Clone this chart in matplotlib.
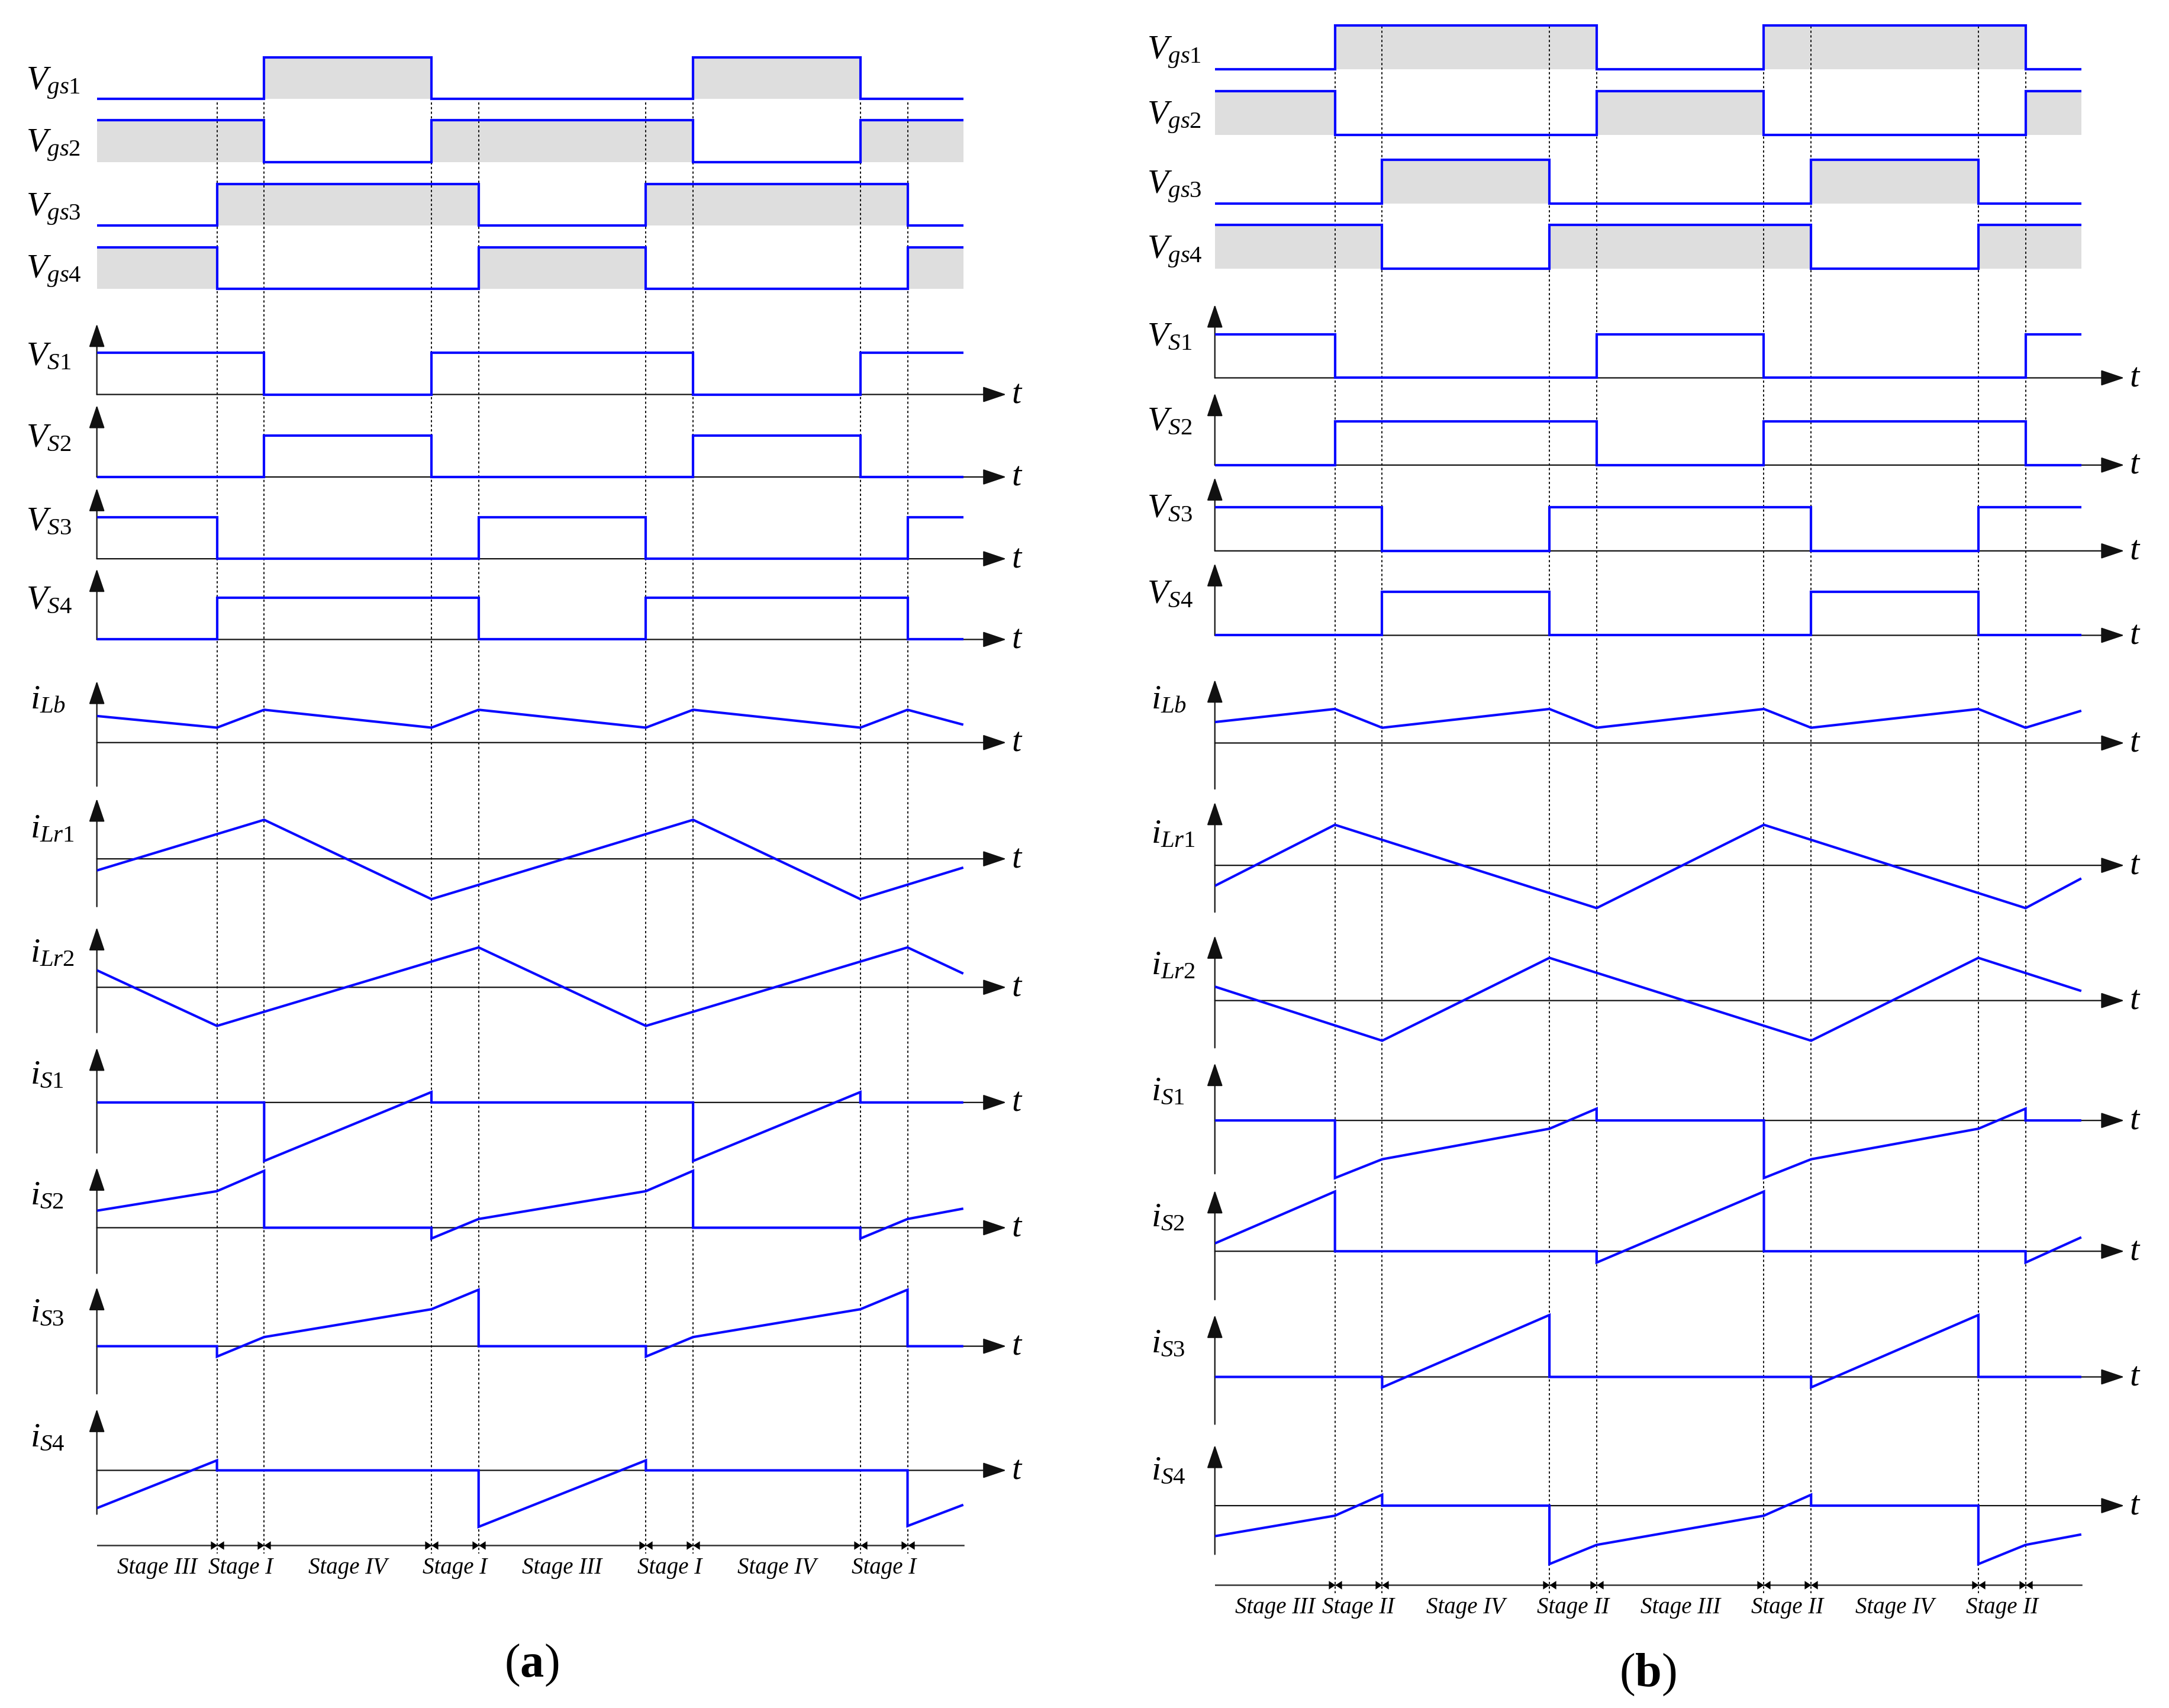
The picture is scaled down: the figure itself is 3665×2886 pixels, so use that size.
import matplotlib.pyplot as plt
from matplotlib.path import Path

plt.rcParams['font.family'] = 'Liberation Serif'
plt.rcParams['mathtext.fontset'] = 'custom'
plt.rcParams['mathtext.rm'] = 'Liberation Serif'
plt.rcParams['mathtext.it'] = 'Liberation Serif:italic'
plt.rcParams['mathtext.bf'] = 'Liberation Serif:bold'

# layout grid = px of the 1568x1234 preview of the reference
W_REF, H_REF = 1568, 1234
PX_PER_TS = 310      # horizontal px per switching period Ts
T_SPAN = 2.4         # time span (Ts) of every axes
T_TIP = 2.12         # end of the time-axis arrows

BLUE = '#0a0aff'
GRAY = '#dedede'

# ---------------- data ----------------
# switching instants and trace end, in Ts
t_sw = [0.28, 0.39, 0.78, 0.89, 1.28, 1.39, 1.78, 1.89]
t_end = 2.02
t_edges = [0] + t_sw + [t_end]

# logic levels per interval (last value repeated for the step end)
vgs1_a = [0, 0, 1, 0, 0, 0, 1, 0, 0, 0]
vgs2_a = [1, 1, 0, 1, 1, 1, 0, 1, 1, 1]
vgs3_a = [0, 1, 1, 1, 0, 1, 1, 1, 0, 0]
vgs4_a = [1, 0, 0, 0, 1, 0, 0, 0, 1, 1]
vs1_a = [1, 1, 0, 1, 1, 1, 0, 1, 1, 1]
vs2_a = [0, 0, 1, 0, 0, 0, 1, 0, 0, 0]
vs3_a = [1, 0, 0, 0, 1, 0, 0, 0, 1, 1]
vs4_a = [0, 1, 1, 1, 0, 1, 1, 1, 0, 0]

vgs1_b = [0, 1, 1, 1, 0, 1, 1, 1, 0, 0]
vgs2_b = [1, 0, 0, 0, 1, 0, 0, 0, 1, 1]
vgs3_b = [0, 0, 1, 0, 0, 0, 1, 0, 0, 0]
vgs4_b = [1, 1, 0, 1, 1, 1, 0, 1, 1, 1]
vs1_b = [1, 0, 0, 0, 1, 0, 0, 0, 1, 1]
vs2_b = [0, 1, 1, 1, 0, 1, 1, 1, 0, 0]
vs3_b = [1, 1, 0, 1, 1, 1, 0, 1, 1, 1]
vs4_b = [0, 0, 1, 0, 0, 0, 1, 0, 0, 0]

# currents (arbitrary units), vertices (t, value); repeated t = jump
ilb_a_t = t_edges
ilb_a = [0.64, 0.36, 0.79, 0.36, 0.79, 0.36, 0.79, 0.36, 0.79, 0.43]
ilr1_a_t = [0, 0.39, 0.78, 1.39, 1.78, 2.02]
ilr1_a = [-0.28, 0.94, -0.97, 0.94, -0.97, -0.21]
ilr2_a_t = [0, 0.28, 0.89, 1.28, 1.89, 2.02]
ilr2_a = [0.41, -0.93, 0.96, -0.93, 0.96, 0.33]
is1_a_t = [0, 0.39, 0.39, 0.78, 0.78, 1.39, 1.39, 1.78, 1.78, 2.02]
is1_a = [0, 0, -1.41, 0.25, 0, 0, -1.41, 0.25, 0, 0]
is2_a_t = [0, 0.28, 0.39, 0.39, 0.78, 0.78, 0.89, 1.28, 1.39, 1.39, 1.78, 1.78, 1.89, 2.02]
is2_a = [0.41, 0.88, 1.37, 0, 0, -0.26, 0.21, 0.88, 1.37, 0, 0, -0.26, 0.21, 0.46]
is3_a_t = [0, 0.28, 0.28, 0.39, 0.78, 0.89, 0.89, 1.28, 1.28, 1.39, 1.78, 1.89, 1.89, 2.02]
is3_a = [0, 0, -0.25, 0.22, 0.89, 1.36, 0, 0, -0.25, 0.22, 0.89, 1.36, 0, 0]
is4_a_t = [0, 0.28, 0.28, 0.89, 0.89, 1.28, 1.28, 1.89, 1.89, 2.02]
is4_a = [-0.91, 0.24, 0, 0, -1.36, 0.24, 0, 0, -1.34, -0.83]

ilb_b_t = t_edges
ilb_b = [0.48, 0.78, 0.35, 0.78, 0.35, 0.78, 0.35, 0.78, 0.35, 0.74]
ilr1_b_t = [0, 0.28, 0.89, 1.28, 1.89, 2.02]
ilr1_b = [-0.47, 0.93, -0.98, 0.93, -0.98, -0.30]
ilr2_b_t = [0, 0.39, 0.78, 1.39, 1.78, 2.02]
ilr2_b = [0.32, -0.92, 0.98, -0.92, 0.98, 0.22]
is1_b_t = [0, 0.28, 0.28, 0.39, 0.78, 0.89, 0.89, 1.28, 1.28, 1.39, 1.78, 1.89, 1.89, 2.02]
is1_b = [0, 0, -1.32, -0.89, -0.19, 0.27, 0, 0, -1.32, -0.89, -0.19, 0.27, 0, 0]
is2_b_t = [0, 0.28, 0.28, 0.89, 0.89, 1.28, 1.28, 1.89, 1.89, 2.02]
is2_b = [0.18, 1.37, 0, 0, -0.26, 1.37, 0, 0, -0.26, 0.32]
is3_b_t = [0, 0.39, 0.39, 0.78, 0.78, 1.39, 1.39, 1.78, 1.78, 2.02]
is3_b = [0, 0, -0.24, 1.42, 0, 0, -0.24, 1.42, 0, 0]
is4_b_t = [0, 0.28, 0.39, 0.39, 0.78, 0.78, 0.89, 1.28, 1.39, 1.39, 1.78, 1.78, 1.89, 2.02]
is4_b = [-0.70, -0.23, 0.25, 0, 0, -1.34, -0.90, -0.23, 0.25, 0, 0, -1.34, -0.90, -0.66]

gate_labels = [r'$V_{\mathit{gs1}}$', r'$V_{\mathit{gs2}}$', r'$V_{\mathit{gs3}}$', r'$V_{\mathit{gs4}}$']
vs_labels = [r'$V_{\mathit{S1}}$', r'$V_{\mathit{S2}}$', r'$V_{\mathit{S3}}$', r'$V_{\mathit{S4}}$']
cur_labels = [r'$i_{\mathit{Lb}}$', r'$i_{\mathit{Lr1}}$', r'$i_{\mathit{Lr2}}$',
              r'$i_{\mathit{S1}}$', r'$i_{\mathit{S2}}$', r'$i_{\mathit{S3}}$', r'$i_{\mathit{S4}}$']
stages_a = ['Stage III', 'Stage I', 'Stage IV', 'Stage I', 'Stage III', 'Stage I', 'Stage IV', 'Stage I']
stages_b = ['Stage III', 'Stage II', 'Stage IV', 'Stage II', 'Stage III', 'Stage II', 'Stage IV', 'Stage II']

panels = [
    dict(tag=r'($\mathbf{a}$)', tag_xy=(384, 1203), x0=70, unit=30, label_x=19,
         dash_top=74, stage_y=1116.6, stage_text_y=1137, stages=stages_a,
         gates=[vgs1_a, vgs2_a, vgs3_a, vgs4_a], gate_base=[71.5, 117, 163, 208.6],
         gate_lab=[65, 110, 156, 201],
         vs=[vs1_a, vs2_a, vs3_a, vs4_a], vs_base=[285, 344.6, 403.7, 462],
         vs_top=[234, 292.7, 352.7, 411], vs_lab=[264, 323, 383, 440],
         cur=[(ilb_a_t, ilb_a), (ilr1_a_t, ilr1_a), (ilr2_a_t, ilr2_a), (is1_a_t, is1_a),
              (is2_a_t, is2_a), (is3_a_t, is3_a), (is4_a_t, is4_a)],
         cur_base=[536.5, 620.5, 713.3, 796.5, 887, 972.6, 1062.3],
         cur_top=[492, 577, 670, 757, 843.6, 930, 1018],
         cur_bot=[568, 655, 746, 833, 920, 1007, 1094],
         cur_lab=[512, 605, 695, 783, 870, 955, 1045]),
    dict(tag=r'($\mathbf{b}$)', tag_xy=(1191, 1210), x0=878, unit=31.5, label_x=829,
         dash_top=19, stage_y=1145, stage_text_y=1165.5, stages=stages_b,
         gates=[vgs1_b, vgs2_b, vgs3_b, vgs4_b], gate_base=[50, 97.5, 147, 194],
         gate_lab=[43, 90, 140, 187],
         vs=[vs1_b, vs2_b, vs3_b, vs4_b], vs_base=[273, 336, 398, 459],
         vs_top=[220, 284, 345, 407], vs_lab=[250, 311, 374, 436],
         cur=[(ilb_b_t, ilb_b), (ilr1_b_t, ilr1_b), (ilr2_b_t, ilr2_b), (is1_b_t, is1_b),
              (is2_b_t, is2_b), (is3_b_t, is3_b), (is4_b_t, is4_b)],
         cur_base=[536.8, 625.2, 722.9, 809.5, 904, 994.8, 1087.8],
         cur_top=[491, 579.5, 676, 768, 860, 950, 1044],
         cur_bot=[570, 659, 757, 848, 939, 1029, 1123],
         cur_lab=[512, 609, 704, 795, 886, 977, 1069]),
]

fig = plt.figure(figsize=(36.66, 28.86), dpi=100)


def fy(y):
    return 1 - y / H_REF


def row_axes(x0, base, unit, half=62):
    # axes whose y=0 sits on the reference row baseline, 1 unit = `unit` px
    ax = fig.add_axes([x0 / W_REF, fy(base + half), T_SPAN * PX_PER_TS / W_REF, 2 * half / H_REF])
    ax.set_xlim(0, T_SPAN)
    ax.set_ylim(-half / unit, half / unit)
    ax.axis('off')
    return ax


def arrow(ax, start, tip):
    ax.annotate('', xy=tip, xytext=start,
                arrowprops=dict(arrowstyle='-|>,head_length=0.8,head_width=0.27',
                                mutation_scale=31, lw=1.6, color='#111111',
                                shrinkA=0, shrinkB=0))


def label(x, y, s):
    fig.text(x / W_REF, fy(y), s, fontsize=42, ha='left', va='baseline')


# bow-tie marker for the stage bar
bowtie = Path([(-1, -0.65), (0, 0), (-1, 0.65), (-1, -0.65),
               (1, -0.65), (0, 0), (1, 0.65), (1, -0.65)],
              [Path.MOVETO, Path.LINETO, Path.LINETO, Path.CLOSEPOLY,
               Path.MOVETO, Path.LINETO, Path.LINETO, Path.CLOSEPOLY])

line_kw = dict(color=BLUE, lw=3.0, solid_joinstyle='miter', solid_capstyle='butt', zorder=3)

for p in panels:
    x0, unit = p['x0'], p['unit']

    # gray shading under the gate signals (bottom layer)
    for lev, base in zip(p['gates'], p['gate_base']):
        ax = row_axes(x0, base, unit)
        ax.fill_between(t_edges, 0, lev, step='post', color=GRAY, lw=0)

    # dashed switching instants + stage bar
    pax = fig.add_axes([x0 / W_REF, 0, T_SPAN * PX_PER_TS / W_REF, 1])
    pax.set_xlim(0, T_SPAN)
    pax.set_ylim(H_REF, 0)
    pax.axis('off')
    pax.vlines(t_sw, p['dash_top'], p['stage_y'] + 6, colors='#111111', lw=1.4,
               linestyles=(0, (2, 2)))
    pax.plot([0, t_end], [p['stage_y']] * 2, color='#333333', lw=1.8)
    pax.plot(t_sw, [p['stage_y']] * len(t_sw), ls='none', marker=bowtie,
             ms=16, color='k', mew=0)
    for name, a, b in zip(p['stages'], t_edges[:-2], t_edges[1:-1]):
        pax.text((a + b) / 2, p['stage_text_y'], name, fontsize=28, style='italic',
                 ha='center', va='baseline')
    fig.text(p['tag_xy'][0] / W_REF, fy(p['tag_xy'][1]), p['tag'], fontsize=58,
             ha='center', va='center')

    # gate signals
    for lev, base, lab, txt in zip(p['gates'], p['gate_base'], p['gate_lab'], gate_labels):
        ax = row_axes(x0, base, unit)
        ax.step(t_edges, lev, where='post', **line_kw)
        label(p['label_x'], lab, txt)

    # switch voltages
    for lev, base, top, lab, txt in zip(p['vs'], p['vs_base'], p['vs_top'], p['vs_lab'], vs_labels):
        ax = row_axes(x0, base, unit)
        arrow(ax, (0, 0), (T_TIP, 0))
        arrow(ax, (0, 0), (0, (base - top) / unit))
        ax.text(2.145, 0, '$t$', fontsize=42, ha='center', va='center')
        ax.step(t_edges, lev, where='post', **line_kw)
        label(p['label_x'], lab, txt)

    # currents
    for (tt, vv), base, top, bot, lab, txt in zip(p['cur'], p['cur_base'], p['cur_top'],
                                                  p['cur_bot'], p['cur_lab'], cur_labels):
        ax = row_axes(x0, base, unit)
        arrow(ax, (0, 0), (T_TIP, 0))
        arrow(ax, (0, (base - bot) / unit), (0, (base - top) / unit))
        ax.text(2.145, 0, '$t$', fontsize=42, ha='center', va='center')
        ax.plot(tt, vv, **line_kw)
        label(p['label_x'] + 3, lab, txt)

fig.savefig('out.png', dpi=100)
